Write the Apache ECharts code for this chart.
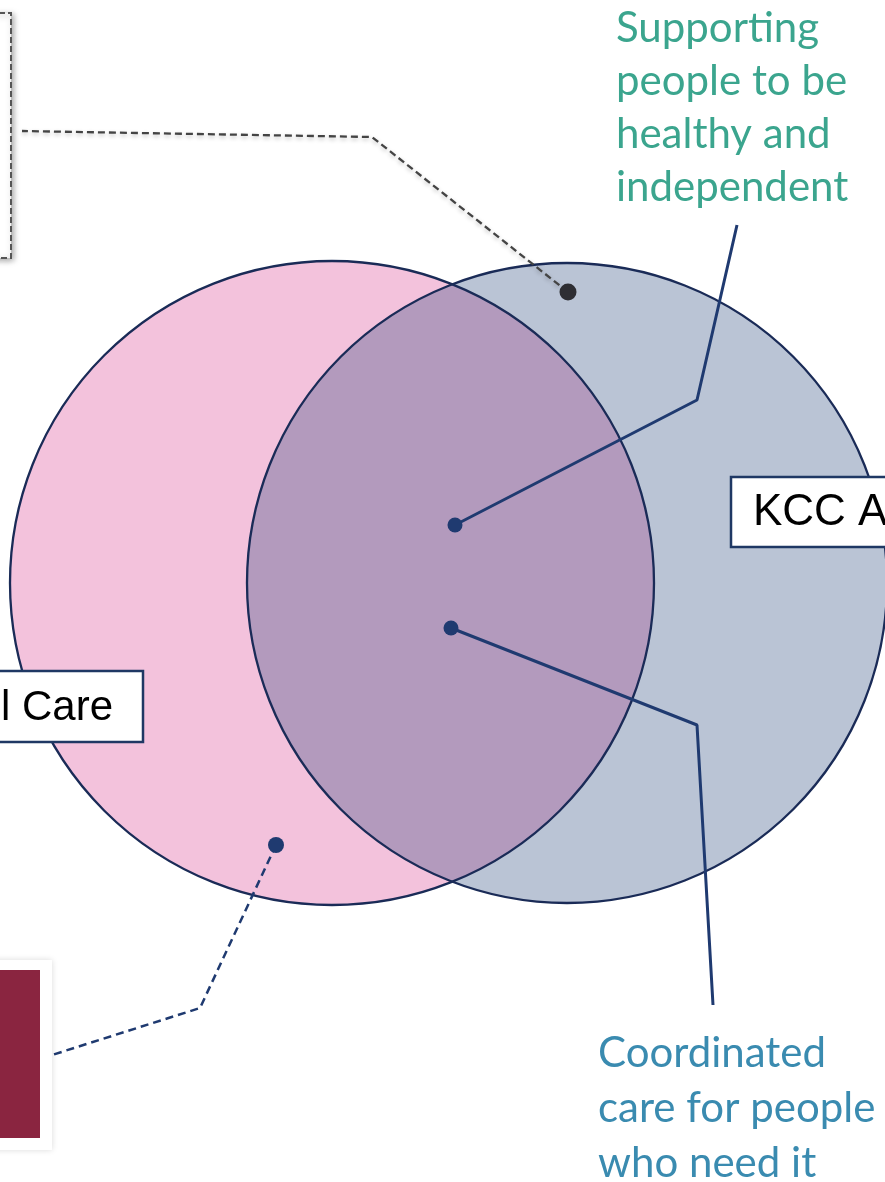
<!DOCTYPE html>
<html>
<head>
<meta charset="utf-8">
<script src="https://cdn.jsdelivr.net/npm/echarts@6/dist/echarts.min.js"></script>
<style>
  html, body { margin: 0; padding: 0; background: #fff; }
  #main { width: 885px; height: 1182px; }
</style>
</head>
<body>
<div id="main"></div>
<script>
// venn circles (centre x, centre y, radius) in picture units
const circleNames = ['Social Care', 'KCC ASC'];
const circleCentres = [[332, 583], [567, 583]];
const circleRadii = [322, 320];
const circleColours = ['#F3C2DC', '#BAC4D5'];
const overlapColour = '#B39ABD';

// leader lines: first point is the dot
const leaderHealthy = [[455, 525], [697, 400], [737, 225]];
const leaderCoordinated = [[451, 628], [697, 725], [713, 1005]];
const leaderTopBox = [[568, 292], [372, 137], [22, 131]];
const leaderBottomBox = [[276, 845], [200, 1008], [52, 1055]];

const greenText = ['Supporting', 'people to be', 'healthy and', 'independent'];
const blueText = ['Coordinated', 'care for people', 'who need it'];

var myChart = echarts.init(document.getElementById('main'));

// circles drawn through the axes
function circleItem(params, api) {
    var c = api.coord([api.value(0), api.value(1)]);
    var r = api.size([api.value(2), 0])[0];
    return {
        type: 'circle',
        shape: { cx: c[0], cy: c[1], r: r },
        style: { fill: circleColours[params.dataIndex] }
    };
}
function outlineItem(params, api) {
    var c = api.coord([api.value(0), api.value(1)]);
    var r = api.size([api.value(2), 0])[0];
    return {
        type: 'circle',
        shape: { cx: c[0], cy: c[1], r: r },
        style: { fill: 'none', stroke: '#1A2B57', lineWidth: 2.3 }
    };
}
// lens where the two circles overlap
function lensItem(params, api) {
    var a = circleCentres[0], b = circleCentres[1];
    var r1 = circleRadii[0], r2 = circleRadii[1];
    var d = b[0] - a[0];
    var off = (r1 * r1 - r2 * r2 + d * d) / (2 * d);
    var h = Math.sqrt(r1 * r1 - off * off);
    var t1 = Math.atan2(-h, off), t2 = Math.atan2(h, off);
    var s1 = Math.atan2(h, off - d), s2 = Math.atan2(-h, off - d) + 2 * Math.PI;
    var pts = [];
    var n = 80, i, t;
    for (i = 0; i <= n; i++) {
        t = t1 + (t2 - t1) * i / n;
        pts.push(api.coord([a[0] + r1 * Math.cos(t), a[1] + r1 * Math.sin(t)]));
    }
    for (i = 0; i <= n; i++) {
        t = s1 + (s2 - s1) * i / n;
        pts.push(api.coord([b[0] + r2 * Math.cos(t), b[1] + r2 * Math.sin(t)]));
    }
    return { type: 'polygon', shape: { points: pts }, style: { fill: overlapColour } };
}

var circleData = circleCentres.map(function (c, i) {
    return { name: circleNames[i], value: [c[0], c[1], circleRadii[i]] };
});

function leaderSeries(pts, colour, dash, width, shadow) {
    var ls = { color: colour, width: width, type: dash || 'solid' };
    if (shadow) {
        ls.shadowBlur = 4;
        ls.shadowColor = 'rgba(0,0,0,0.25)';
        ls.shadowOffsetY = 2;
    }
    return {
        type: 'line',
        data: pts,
        z: 5,
        silent: true,
        symbol: 'none',
        lineStyle: ls
    };
}
function dotSeries(pt, colour, size) {
    return {
        type: 'scatter',
        data: [pt],
        z: 6,
        symbolSize: size,
        itemStyle: { color: colour, opacity: 1 }
    };
}

// caption lines, one text element per line
function captionLines(lines, x, y0, step, colour) {
    return lines.map(function (s, i) {
        return { type: 'text', z: 11, style: { x: x, y: y0 + i * step, text: s, align: 'left',
            verticalAlign: 'middle', font: '42px Lato, "Open Sans", sans-serif', fill: colour } };
    });
}

var option = {
    animation: false,
    grid: { left: 0, right: 0, top: 0, bottom: 0 },
    xAxis: { type: 'value', min: 0, max: 885, show: false },
    yAxis: { type: 'value', min: 0, max: 1182, inverse: true, show: false },
    series: [
        { type: 'custom', renderItem: circleItem, data: circleData, z: 1, silent: true },
        { type: 'custom', renderItem: lensItem, data: [[0, 0]], z: 2, silent: true },
        { type: 'custom', renderItem: outlineItem, data: circleData, z: 3, silent: true },
        leaderSeries(leaderHealthy, '#1F3A70', null, 3),
        leaderSeries(leaderCoordinated, '#1F3A70', null, 3),
        leaderSeries(leaderTopBox, '#444', [7, 4], 2.3, true),
        leaderSeries(leaderBottomBox, '#1F3A70', [8, 5], 2.5),
        dotSeries(leaderHealthy[0], '#1F3A70', 15),
        dotSeries(leaderCoordinated[0], '#1F3A70', 15),
        dotSeries(leaderTopBox[0], '#2E2E33', 17),
        dotSeries(leaderBottomBox[0], '#1F3A70', 16)
    ],
    graphic: [
        // top-left dashed box
        { type: 'rect', z: 10, shape: { x: -100, y: 13, width: 111, height: 245 },
          style: { fill: '#fff', stroke: '#555', lineWidth: 2, lineDash: [6, 3],
                   shadowBlur: 6, shadowColor: 'rgba(0,0,0,0.35)', shadowOffsetX: 2, shadowOffsetY: 2 } },
        // bottom-left maroon block
        { type: 'rect', z: 10, shape: { x: -10, y: 960, width: 62, height: 190 },
          style: { fill: '#fff', shadowBlur: 6, shadowColor: 'rgba(0,0,0,0.15)' } },
        { type: 'rect', z: 11, shape: { x: -10, y: 970, width: 50, height: 168 },
          style: { fill: '#8A2540' } },
        // circle name boxes
        { type: 'rect', z: 10, shape: { x: -10, y: 671, width: 153, height: 71 },
          style: { fill: '#fff', stroke: '#1F3864', lineWidth: 2.5 } },
        { type: 'text', z: 11, style: { x: 113, y: 708, text: 'l Care', align: 'right', verticalAlign: 'middle',
          font: '42px "Liberation Sans", Arial, sans-serif', fill: '#000' } },
        { type: 'rect', z: 10, shape: { x: 731, y: 477, width: 170, height: 70 },
          style: { fill: '#fff', stroke: '#1F3864', lineWidth: 2.5 } },
        { type: 'text', z: 11, style: { x: 753, y: 513, text: 'KCC A', align: 'left', verticalAlign: 'middle',
          font: '44px "Liberation Sans", Arial, sans-serif', fill: '#000' } }
    ].concat(captionLines(greenText, 616, 28, 53, '#3BA58E'))
     .concat(captionLines(blueText, 598, 1053, 55, '#3A8BB0'))
};
myChart.setOption(option);
</script>
</body>
</html>
